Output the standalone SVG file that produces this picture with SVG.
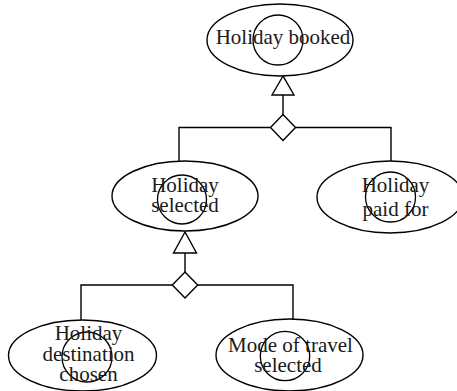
<svg xmlns="http://www.w3.org/2000/svg" width="457" height="391" viewBox="0 0 457 391">
  <style>
    .oval { fill: #ffffff; stroke: #000000; stroke-width: 1.4; }
    .ring { fill: none; stroke: #000000; stroke-width: 1.3; }
    .lbl { font-family: "Liberation Serif", "Times New Roman", serif; font-size: 21px; fill: #1a1a1a; text-anchor: middle; }
    .wire { fill: none; stroke: #000000; stroke-width: 1.4; }
    .head { fill: #ffffff; stroke: #000000; stroke-width: 1.4; stroke-linejoin: miter; }
  </style>
  <rect width="457" height="391" fill="#ffffff"/>

  <!-- refinement links: triangle points to parent goal, diamond joins the sub-goals -->
  <g id="connectors">
    <line class="wire" x1="283" y1="95" x2="283" y2="114.5"/>
    <polygon class="head" points="283,76 272,95 294,95"/>
    <polyline class="wire" points="179,161 179,127.5 270.5,127.5"/>
    <polyline class="wire" points="295.5,127.5 391,127.5 391,161"/>
    <polygon class="head" points="283,114.5 295.5,127.5 283,140.5 270.5,127.5"/>

    <line class="wire" x1="185" y1="253" x2="185" y2="272"/>
    <polygon class="head" points="185,232 173.5,253 196.5,253"/>
    <polyline class="wire" points="81,320 81,285 172.3,285"/>
    <polyline class="wire" points="197.7,285 293,285 293,319.5"/>
    <polygon class="head" points="185,272 197.7,285 185,298 172.3,285"/>
  </g>

  <g id="holiday-booked">
    <ellipse class="oval" cx="280" cy="40" rx="73" ry="36"/>
    <circle class="ring" cx="278" cy="40" r="25"/>
    <text class="lbl" x="283" y="44">Holiday booked</text>
  </g>

  <g id="holiday-selected">
    <ellipse class="oval" cx="185" cy="196" rx="73" ry="35"/>
    <circle class="ring" cx="182" cy="199.5" r="24.5"/>
    <text class="lbl" x="185" y="192">Holiday</text>
    <text class="lbl" x="185" y="212">selected</text>
  </g>

  <g id="holiday-paid-for">
    <ellipse class="oval" cx="390" cy="197" rx="73" ry="36"/>
    <circle class="ring" cx="390.5" cy="197" r="25"/>
    <text class="lbl" x="395.5" y="192">Holiday</text>
    <text class="lbl" x="395.5" y="216">paid for</text>
  </g>

  <g id="destination-chosen">
    <ellipse class="oval" cx="82.5" cy="355.5" rx="74" ry="35.5"/>
    <circle class="ring" cx="87" cy="357" r="25"/>
    <text class="lbl" x="88.5" y="340">Holiday</text>
    <text class="lbl" x="88.5" y="360.5">destination</text>
    <text class="lbl" x="88.5" y="381">chosen</text>
  </g>

  <g id="travel-mode-selected">
    <ellipse class="oval" cx="289.5" cy="355" rx="73.5" ry="36"/>
    <circle class="ring" cx="285" cy="356" r="24.7"/>
    <text class="lbl" x="290.5" y="351.5">Mode of travel</text>
    <text class="lbl" x="288" y="371.5">selected</text>
  </g>
</svg>
